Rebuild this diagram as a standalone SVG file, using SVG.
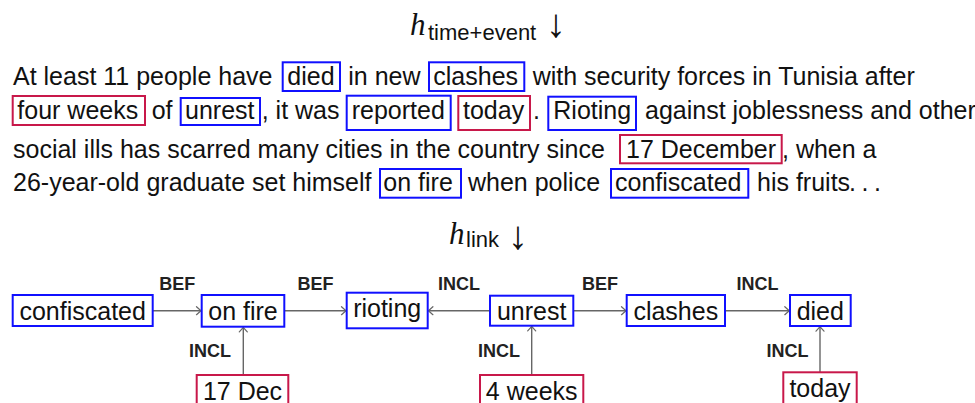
<svg xmlns="http://www.w3.org/2000/svg" width="975" height="403" viewBox="0 0 975 403">
  <defs>
    <style>
      .txt { font-family: "Liberation Sans", Arial, sans-serif; font-size: 25px; fill: #111; }
      .mi { font-family: "Liberation Serif", "Times New Roman", serif; font-style: italic; font-size: 31px; fill: #111; }
      .sub { font-family: "Liberation Sans", Arial, sans-serif; font-size: 22px; fill: #111; }
      .arr { font-family: "Liberation Serif", "DejaVu Serif", serif; font-size: 40px; fill: #111; }
      .ev { fill: none; stroke: #1010ff; stroke-width: 2; }
      .tm { fill: none; stroke: #c8184a; stroke-width: 2; }
      .node { fill: #fff; }
      .lbl { font-family: "Liberation Sans", Arial, sans-serif; font-size: 18px; font-weight: bold; fill: #222; text-anchor: middle; }
      .ntxt { font-family: "Liberation Sans", Arial, sans-serif; font-size: 25px; fill: #111; text-anchor: middle; }
      .edge { stroke: #666; stroke-width: 1.4; fill: none; }
    </style>
    <marker id="to" viewBox="-6 -5 8 10" markerWidth="8" markerHeight="10" refX="0" refY="0" orient="auto" markerUnits="userSpaceOnUse">
      <path d="M -4.5 -4 Q -1.2 -1 0 0 Q -1.2 1 -4.5 4" fill="none" stroke="#666" stroke-width="1.2" stroke-linecap="round"/>
    </marker>
  </defs>

  <!-- heading above the passage -->
  <g id="head-top">
    <text class="mi" x="410" y="35">h</text>
    <text class="sub" x="428" y="39.5">time+event</text>
    <text class="arr" x="546" y="36.5">↓</text>
  </g>

  <!-- annotated passage -->
  <g id="passage">
    <rect class="ev" x="282.7" y="62.3" width="57.3" height="28.7"/>
    <rect class="ev" x="429" y="62.3" width="95.3" height="28.7"/>
    <rect class="tm" x="12.7" y="96" width="132.3" height="29"/>
    <rect class="ev" x="180.7" y="98" width="79.3" height="27"/>
    <rect class="ev" x="346.7" y="95.7" width="104" height="34.3"/>
    <rect class="tm" x="458.3" y="96" width="71.7" height="34"/>
    <rect class="ev" x="548.3" y="96.7" width="87.7" height="33.3"/>
    <rect class="tm" x="620" y="135" width="161.7" height="28.3"/>
    <rect class="ev" x="380" y="169" width="81" height="28.7"/>
    <rect class="ev" x="611" y="169" width="137.3" height="28.7"/>

    <text class="txt" x="13" y="85">At least 11 people have</text>
    <text class="txt" x="287.3" y="85">died</text>
    <text class="txt" x="348.3" y="85">in new</text>
    <text class="txt" x="433.3" y="85">clashes</text>
    <text class="txt" x="532.7" y="85">with security forces in Tunisia after</text>

    <text class="txt" x="17.3" y="119">four weeks</text>
    <text class="txt" x="151.7" y="119">of</text>
    <text class="txt" x="185" y="119">unrest</text>
    <text class="txt" x="261.7" y="119">, it was</text>
    <text class="txt" x="351.7" y="119">reported</text>
    <text class="txt" x="463" y="119">today</text>
    <text class="txt" x="533" y="119">.</text>
    <text class="txt" x="553.3" y="119">Rioting</text>
    <text class="txt" x="645" y="119">against joblessness and other</text>

    <text class="txt" x="13" y="157.5">social ills has scarred many cities in the country since</text>
    <text class="txt" x="626" y="157.5">17 December</text>
    <text class="txt" x="782" y="157.5">, when a</text>

    <text class="txt" x="13" y="191">26-year-old graduate set himself</text>
    <text class="txt" x="383.3" y="191">on fire</text>
    <text class="txt" x="468" y="191">when police</text>
    <text class="txt" x="615" y="191">confiscated</text>
    <text class="txt" x="757" y="191">his fruits<tspan dx="-1">.</tspan><tspan dx="5.5">.</tspan><tspan dx="5.5">.</tspan></text>
  </g>

  <!-- heading above the graph -->
  <g id="head-link">
    <text class="mi" x="449" y="243.5">h</text>
    <text class="sub" x="466" y="247">link</text>
    <text class="arr" x="508" y="248.5">↓</text>
  </g>

  <!-- connectors -->
  <g id="edges">
    <line class="edge" x1="152.7" y1="310.7" x2="201" y2="310.7" marker-end="url(#to)"/>
    <line class="edge" x1="284.3" y1="310.7" x2="346" y2="310.7" marker-end="url(#to)"/>
    <line class="edge" x1="490" y1="310.7" x2="428.4" y2="310.7" marker-end="url(#to)"/>
    <line class="edge" x1="573.3" y1="310.7" x2="626" y2="310.7" marker-end="url(#to)"/>
    <line class="edge" x1="725" y1="310.7" x2="789.3" y2="310.7" marker-end="url(#to)"/>
    <line class="edge" x1="243.3" y1="375" x2="243.3" y2="327.4" marker-end="url(#to)"/>
    <line class="edge" x1="531.7" y1="375" x2="531.7" y2="326.4" marker-end="url(#to)"/>
    <line class="edge" x1="820" y1="372.3" x2="820" y2="326.7" marker-end="url(#to)"/>

    <text class="lbl" x="177.3" y="290">BEF</text>
    <text class="lbl" x="315.6" y="290">BEF</text>
    <text class="lbl" x="459" y="290">INCL</text>
    <text class="lbl" x="600" y="290">BEF</text>
    <text class="lbl" x="757.5" y="290">INCL</text>
    <text class="lbl" x="210" y="357">INCL</text>
    <text class="lbl" x="499" y="357">INCL</text>
    <text class="lbl" x="787.5" y="357">INCL</text>
  </g>

  <!-- event nodes -->
  <g id="n-confiscated">
    <rect class="ev node" x="12.7" y="295" width="140" height="31"/>
    <text class="ntxt" x="82.7" y="319.5">confiscated</text>
  </g>
  <g id="n-onfire">
    <rect class="ev node" x="201.7" y="295" width="82.6" height="31.7"/>
    <text class="ntxt" x="243" y="319.8">on fire</text>
  </g>
  <g id="n-rioting">
    <rect class="ev node" x="346.7" y="292.7" width="81" height="35.6"/>
    <text class="ntxt" x="387.2" y="316.5">rioting</text>
  </g>
  <g id="n-unrest">
    <rect class="ev node" x="490" y="295.7" width="83.3" height="30"/>
    <text class="ntxt" x="531.7" y="319.5">unrest</text>
  </g>
  <g id="n-clashes">
    <rect class="ev node" x="626.7" y="295" width="98.3" height="31"/>
    <text class="ntxt" x="675.8" y="319.5">clashes</text>
  </g>
  <g id="n-died">
    <rect class="ev node" x="790" y="295" width="60.7" height="31"/>
    <text class="ntxt" x="820.3" y="319.5">died</text>
  </g>

  <!-- time nodes -->
  <g id="n-17dec">
    <rect class="tm node" x="196.7" y="375" width="91.6" height="40"/>
    <text class="ntxt" x="242.5" y="399.5">17 Dec</text>
  </g>
  <g id="n-4weeks">
    <rect class="tm node" x="480" y="375" width="103.3" height="40"/>
    <text class="ntxt" x="531.7" y="399.5">4 weeks</text>
  </g>
  <g id="n-today">
    <rect class="tm node" x="783.3" y="372.3" width="73.4" height="40"/>
    <text class="ntxt" x="820" y="396.8">today</text>
  </g>
</svg>
